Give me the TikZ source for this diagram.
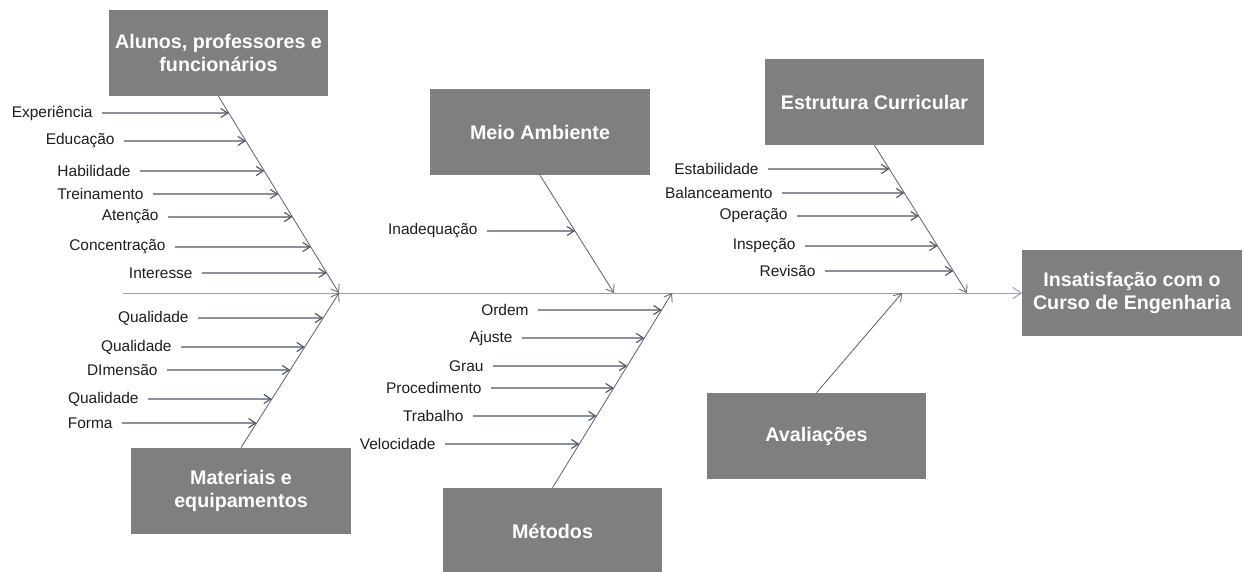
\documentclass[tikz,border=0pt]{standalone}
\usepackage{fontspec}
\setmainfont{Liberation Sans}
\usetikzlibrary{arrows.meta,positioning,calc}
\definecolor{FishGray}{RGB}{127,127,127}
\definecolor{FishArrow}{RGB}{78,84,100}
\definecolor{FishSpine}{RGB}{160,154,180}
\definecolor{FishBone}{RGB}{100,100,116}
\definecolor{FishText}{RGB}{30,30,30}

\begin{document}
\begin{tikzpicture}[x=0.025cm,y=-0.025cm,
    causebox/.style={fill=FishGray,minimum width=5.475cm,minimum height=2.15cm,align=center,text=white,font=\bfseries\fontsize{14}{16.5}\selectfont,inner sep=2pt},
    lbl/.style={anchor=east,inner xsep=6.5pt,inner ysep=1pt,text=FishText,font=\fontsize{11}{13}\selectfont},
    sub/.style={-{Straight Barb[length=5pt,width=6.5pt]},line width=0.8pt,draw=FishArrow},
    bone/.style={-{Straight Barb[length=5pt,width=7pt]},line width=0.6pt,draw=FishBone},
    spine/.style={-{Straight Barb[length=6pt,width=8pt]},line width=0.7pt,draw=FishSpine}
  ]
  \useasboundingbox (0,0) rectangle (1244,572);

  % cause boxes
  \node[causebox] (alunos) at (218.5,53) {Alunos, professores e\\funcionários};
  \node[causebox] (meio) at (540,132) {Meio Ambiente};
  \node[causebox] (estrutura) at (874.5,102) {Estrutura Curricular};
  \node[causebox] (materiais) at (241,491) {Materiais e\\equipamentos};
  \node[causebox] (metodos) at (552.5,531) {Métodos};
  \node[causebox] (avaliacoes) at (816.5,436) {Avaliações};
  \node[causebox] (efeito) at (1132,293) {Insatisfação com o\\Curso de Engenharia};

  % spine
  \coordinate (tail) at (123,293);
  \coordinate (jAlunos) at (339,293);
  \coordinate (jMeio) at (614,293);
  \coordinate (jMetodos) at (672,293);
  \coordinate (jAval) at (902,293);
  \coordinate (jEstr) at (967,293);
  \draw[spine] (tail) -- (efeito);

  % main bones
  \draw[bone] (alunos.south) -- (jAlunos);
  \draw[bone] (materiais.north) -- (jAlunos);
  \draw[bone] (meio.south) -- (jMeio);
  \draw[bone] (metodos.north) -- (jMetodos);
  \draw[bone] (estrutura.south) -- (jEstr);
  \draw[bone] (avaliacoes.north) -- (jAval);

  % sub-causes
  \foreach \n/\txt/\y/\xs in {exp/Experiência/113/102, edu/Educação/141/124, hab/Habilidade/171/140,
      tre/Treinamento/194/153, ate/Atenção/217/168, con/Concentração/247/175, int/Interesse/273/202} {
    \coordinate (\n-e) at (intersection cs:first line={(alunos.south)--(jAlunos)},second line={(0,\y)--(1,\y)});
    \node[lbl] (\n) at (\xs,\y) {\txt};
    \draw[sub] (\n) -- (\n-e);
  }
  \foreach \n/\txt/\y/\xs in {qa/Qualidade/318/198, qb/Qualidade/347/181, dim/DImensão/370/167,
      qc/Qualidade/399/148, frm/Forma/423/122} {
    \coordinate (\n-e) at (intersection cs:first line={(materiais.north)--(jAlunos)},second line={(0,\y)--(1,\y)});
    \node[lbl] (\n) at (\xs,\y) {\txt};
    \draw[sub] (\n) -- (\n-e);
  }
  \foreach \n/\txt/\y/\xs in {ina/Inadequação/231/487} {
    \coordinate (\n-e) at (intersection cs:first line={(meio.south)--(jMeio)},second line={(0,\y)--(1,\y)});
    \node[lbl] (\n) at (\xs,\y) {\txt};
    \draw[sub] (\n) -- (\n-e);
  }
  \foreach \n/\txt/\y/\xs in {ord/Ordem/310/538, aju/Ajuste/338/522, gra/Grau/366/493,
      pro/Procedimento/388/491, tra/Trabalho/416/473, vel/Velocidade/444/445} {
    \coordinate (\n-e) at (intersection cs:first line={(metodos.north)--(jMetodos)},second line={(0,\y)--(1,\y)});
    \node[lbl] (\n) at (\xs,\y) {\txt};
    \draw[sub] (\n) -- (\n-e);
  }
  \foreach \n/\txt/\y/\xs in {est/Estabilidade/169/768, bal/Balanceamento/193/782, ope/Operação/216/797,
      ins/Inspeção/246/805, rev/Revisão/271/825} {
    \coordinate (\n-e) at (intersection cs:first line={(estrutura.south)--(jEstr)},second line={(0,\y)--(1,\y)});
    \node[lbl] (\n) at (\xs,\y) {\txt};
    \draw[sub] (\n) -- (\n-e);
  }
\end{tikzpicture}
\end{document}
